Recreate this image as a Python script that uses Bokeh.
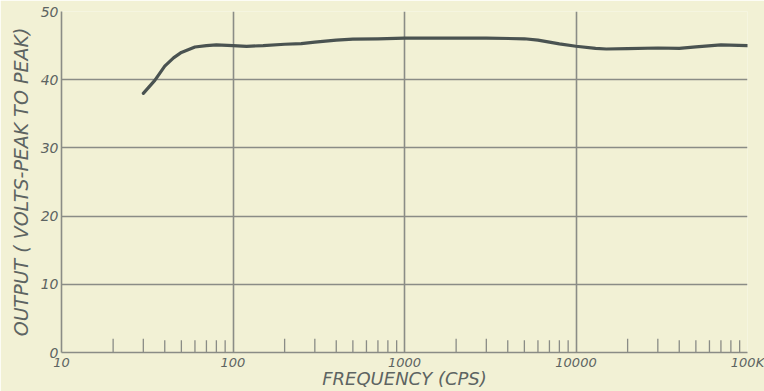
from bokeh.plotting import figure
from bokeh.models import FixedTicker, Range1d
from bokeh.embed import file_html
from bokeh.resources import INLINE

# ---- data ----
freq = [30, 35, 40, 45, 50, 60, 70, 80, 100, 120, 150, 200, 250, 300, 400, 500,
        700, 1000, 2000, 3000, 5000, 6000, 7000, 8000, 10000, 13000, 15000,
        20000, 30000, 40000, 50000, 70000, 100000]
output = [38.0, 39.9, 42.0, 43.2, 44.0, 44.8, 45.0, 45.1, 45.0, 44.9, 45.0, 45.2,
          45.3, 45.5, 45.8, 45.95, 46.0, 46.1, 46.1, 46.1, 46.0, 45.8, 45.5, 45.25,
          44.9, 44.6, 44.5, 44.55, 44.65, 44.6, 44.8, 45.1, 45.0]

x_ticks = [10, 100, 1000, 10000, 100000]
x_tick_labels = ["10", "100", "1000", "10000", "100K"]
y_ticks = [0, 10, 20, 30, 40, 50]
minor_freqs = [20, 30, 40, 50, 60, 70, 80, 90,
               200, 300, 400, 500, 600, 700, 800, 900,
               2000, 3000, 4000, 5000, 6000, 7000, 8000, 9000,
               20000, 30000, 40000, 50000, 60000, 70000, 80000, 90000]
minor_len = [2.0, 2.0, 1.8, 1.8, 1.8, 1.8, 1.8, 1.8] * 4

paper = "#f2f1d5"
grid_c = "#8a8c86"
ink = "#4a5351"
text_c = "#5d6462"
font = "DejaVu Sans"

p = figure(width=764, height=391, x_axis_type="log",
           x_range=Range1d(10, 100000), y_range=Range1d(0, 50),
           output_backend="svg", toolbar_location=None,
           background_fill_color=paper, border_fill_color=paper,
           min_border_left=61, min_border_right=17, min_border_top=11,
           min_border_bottom=39)

p.outline_line_color = None

# grid
p.xgrid.ticker = FixedTicker(ticks=x_ticks)
p.ygrid.ticker = FixedTicker(ticks=y_ticks)
for g in (p.xgrid, p.ygrid):
    g.grid_line_color = grid_c
    g.grid_line_width = 1.6
    g.grid_line_alpha = 1.0

# axes
xa = p.xaxis[0]
xa.ticker = FixedTicker(ticks=x_ticks, minor_ticks=[])
xa.major_label_overrides = {t: l for t, l in zip(x_ticks, x_tick_labels)}
ya = p.yaxis[0]
ya.ticker = FixedTicker(ticks=y_ticks, minor_ticks=[])

for ax in (xa, ya):
    ax.axis_line_color = grid_c
    ax.axis_line_width = 1.6
    ax.major_tick_line_color = None
    ax.minor_tick_line_color = None
    ax.major_tick_out = 0
    ax.major_tick_in = 0
    ax.minor_tick_out = 0
    ax.minor_tick_in = 0
    ax.major_label_text_font = font
    ax.major_label_text_font_style = "italic"
    ax.major_label_text_color = text_c
    ax.axis_label_text_font = font
    ax.axis_label_text_font_style = "italic"
    ax.axis_label_text_color = text_c

xa.major_label_text_font_size = "13px"
ya.major_label_text_font_size = "14px"
xa.axis_label_text_font_size = "18px"
ya.axis_label_text_font_size = "19px"

xa.major_label_standoff = 2
ya.major_label_standoff = 3
xa.axis_label = "FREQUENCY (CPS)"
xa.axis_label_standoff = -5
ya.axis_label = "OUTPUT ( VOLTS-PEAK TO PEAK)"
ya.axis_label_standoff = 6

# minor tick marks along the bottom
p.segment(x0=minor_freqs, y0=[0] * len(minor_freqs), x1=minor_freqs, y1=minor_len,
          line_color=grid_c, line_width=1.3)

# response curve
p.line(freq, output, line_color=ink, line_width=3.2, line_cap="round",
       line_join="round")

open("out.html", "w").write(file_html(p, INLINE))
